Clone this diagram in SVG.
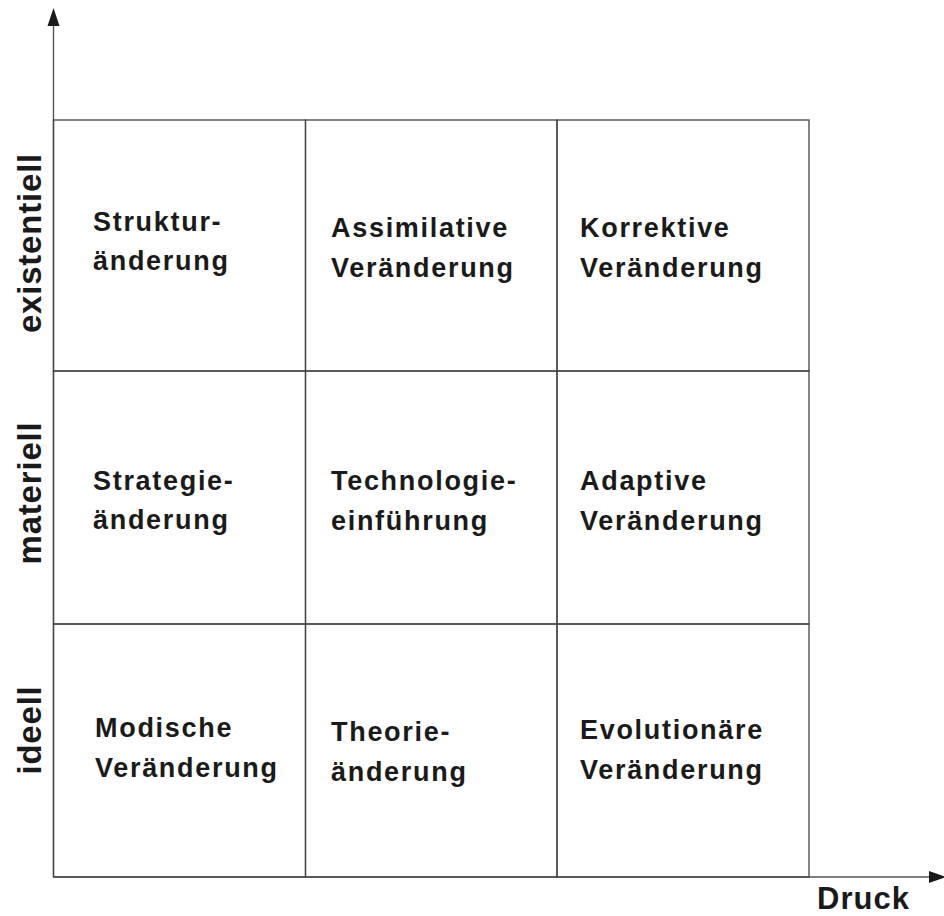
<svg xmlns="http://www.w3.org/2000/svg" width="944" height="916" viewBox="0 0 944 916">
<style>
.cell{fill:none;stroke:#444;stroke-width:1.3}
.t{font-family:"Liberation Sans",Arial,sans-serif;font-weight:bold;font-size:27px;letter-spacing:1.7px;fill:#1a1a1a}
.ax{font-family:"Liberation Sans",Arial,sans-serif;font-weight:bold;font-size:33px;letter-spacing:0.8px;fill:#1a1a1a}
.axis{stroke:#555;stroke-width:1.4;fill:none}
.head{fill:#1a1a1a}
</style>
<rect width="944" height="916" fill="#fff"/>
<g id="connectors">
<line class="axis" x1="53.5" y1="877" x2="53.5" y2="22"/>
<polygon class="head" points="53.5,8 47.5,26 59.5,26"/>
<line class="axis" x1="53.5" y1="877" x2="930" y2="877"/>
<polygon class="head" points="946,877 929,871 929,883"/>
</g>
<g id="axis-labels">
<text class="ax" transform="translate(41,243) rotate(-90)" text-anchor="middle">existentiell</text>
<text class="ax" transform="translate(41,493) rotate(-90)" text-anchor="middle">materiell</text>
<text class="ax" transform="translate(41,730) rotate(-90)" text-anchor="middle">ideell</text>
<text class="ax" x="817" y="909" style="font-size:31px;letter-spacing:1px">Druck</text>
</g>
<g id="cell-1-1"><rect class="cell" x="53.5" y="120" width="252" height="251"/>
<text class="t" x="93" y="231">Struktur-</text><text class="t" x="93" y="270">änderung</text></g>
<g id="cell-1-2"><rect class="cell" x="305.5" y="120" width="251.5" height="251"/>
<text class="t" x="331" y="237">Assimilative</text><text class="t" x="331" y="277">Veränderung</text></g>
<g id="cell-1-3"><rect class="cell" x="557" y="120" width="252" height="251"/>
<text class="t" x="580" y="237">Korrektive</text><text class="t" x="580" y="277">Veränderung</text></g>
<g id="cell-2-1"><rect class="cell" x="53.5" y="371" width="252" height="253"/>
<text class="t" x="93" y="490">Strategie-</text><text class="t" x="93" y="529">änderung</text></g>
<g id="cell-2-2"><rect class="cell" x="305.5" y="371" width="251.5" height="253"/>
<text class="t" x="331" y="490">Technologie-</text><text class="t" x="331" y="530">einführung</text></g>
<g id="cell-2-3"><rect class="cell" x="557" y="371" width="252" height="253"/>
<text class="t" x="580" y="490">Adaptive</text><text class="t" x="580" y="530">Veränderung</text></g>
<g id="cell-3-1"><rect class="cell" x="53.5" y="624" width="252" height="253"/>
<text class="t" x="95" y="737">Modische</text><text class="t" x="95" y="777">Veränderung</text></g>
<g id="cell-3-2"><rect class="cell" x="305.5" y="624" width="251.5" height="253"/>
<text class="t" x="331" y="741">Theorie-</text><text class="t" x="331" y="781">änderung</text></g>
<g id="cell-3-3"><rect class="cell" x="557" y="624" width="252" height="253"/>
<text class="t" x="580" y="739">Evolutionäre</text><text class="t" x="580" y="779">Veränderung</text></g>
</svg>
